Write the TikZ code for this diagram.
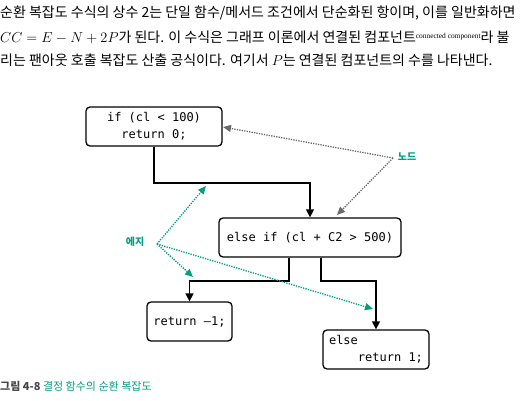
\documentclass[tikz,border=0pt]{standalone}
\usepackage{fontspec}
\setmainfont{Liberation Serif}
\newfontfamily\kr{Noto Sans CJK KR}
\newfontfamily\code{DejaVu Sans Mono}
\usetikzlibrary{arrows.meta,calc}
\definecolor{tealc}{RGB}{0,158,130}
\definecolor{grayarrow}{RGB}{105,105,105}
\definecolor{capgray}{RGB}{70,70,70}
\tikzset{
  body/.style={anchor=west,inner sep=0pt,font=\kr\fontsize{14}{16}\selectfont},
  codebox/.style={draw,line width=1.3pt,rounded corners=4pt,minimum height=39pt,inner sep=0pt,font=\code\fontsize{12}{17}\selectfont,align=center},
  flow/.style={line width=1.4pt,-{Triangle[length=8pt,width=8pt]}},
  grayann/.style={grayarrow,line width=1.3pt,dash pattern=on 1.3pt off 1.2pt,-{Triangle[length=8pt,width=7pt]}},
  tealann/.style={tealc,line width=1.3pt,dash pattern=on 1.3pt off 1.2pt,-{Triangle[length=8pt,width=7pt]}},
  annlabel/.style={inner sep=0pt,text=tealc,font=\kr\bfseries\fontsize{10}{12}\selectfont}
}
\begin{document}
\begin{tikzpicture}[x=1pt,y=-1pt]
\useasboundingbox (0,0) rectangle (531,401);
% body text
\node[body] (l1) at (0,13) {순환 복잡도 수식의 상수 2는 단일 함수/메서드 조건에서 단순화된 항이며, 이를 일반화하면};
\node[body] (l2) at (0,37) {{\rmfamily\fontsize{14}{16}\selectfont$CC = E - N + 2P$}가 된다. 이 수식은 그래프 이론에서 연결된 컴포넌트{\rmfamily\fontsize{7.4}{8}\selectfont\raisebox{4pt}{connected component}}라 불};
\node[body] (l3) at (0,60) {리는 팬아웃 호출 복잡도 산출 공식이다. 여기서 {\rmfamily\fontsize{14}{16}\selectfont$P$}는 연결된 컴포넌트의 수를 나타낸다.};
% boxes
\node[codebox,minimum width=136pt] (b1) at (154,126.5) {if (cl < 100)\\return 0;};
\node[codebox,minimum width=182pt] (b2) at (310,237.5) {else if (cl + C2 > 500)};
\node[codebox,minimum width=85pt] (b3) at (189.5,321.5) {return –1;};
\node[codebox,minimum width=106pt,align=left] (b4) at (376,349.5) {else\\\phantom{0000}return 1;};
% flow edges
\coordinate (j1) at (310,183);
\draw[flow] (b1.south) |- (j1) -- (b2.north);
\coordinate (s2l) at ($(b2.south)+(-21,0)$);
\coordinate (s2r) at ($(b2.south)+(11,0)$);
\draw[flow] (s2l) -- ++(0,23.5) -| (b3.north);
\draw[flow] (s2r) -- ++(0,23.5) -| (b4.north);
% annotations
\node[annlabel] (node) at (407,157) {노드};
\coordinate (ns) at (393,158);
\coordinate (nt1) at (223,127);
\coordinate (nt2) at (337,215);
\draw[grayann] (ns) -- (nt1);
\draw[grayann] (ns) -- (nt2);
\node[annlabel] (edge) at (135,242) {에지};
\coordinate (es) at (157,244);
\coordinate (et1) at (206,186);
\coordinate (et2) at (193,277);
\coordinate (et3) at (373,309);
\draw[tealann] (es) -- (et1);
\draw[tealann] (es) -- (et2);
\draw[tealann] (es) -- (et3);
% caption
\node[anchor=west,inner sep=0pt,font=\kr\fontsize{11}{12}\selectfont] (cap) at (0,386) {{\bfseries\color{capgray}그림 4-8} {\color{tealc}결정 함수의 순환 복잡도}};
\end{tikzpicture}
\end{document}
